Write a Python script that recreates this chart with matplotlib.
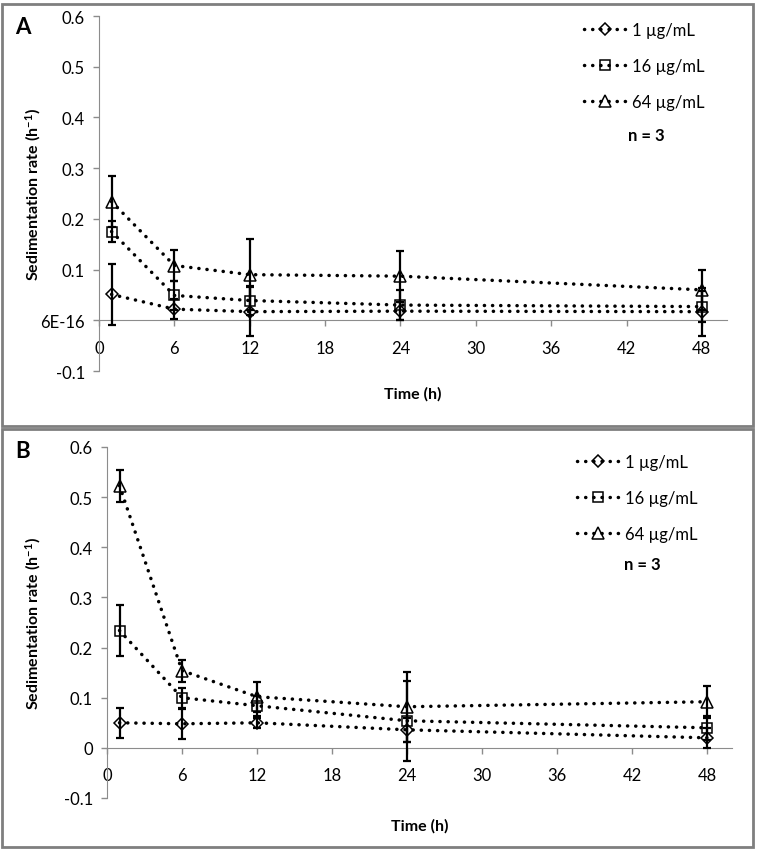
import numpy as np
import matplotlib
matplotlib.use("Agg")
from matplotlib import pyplot as plt

plt.rcParams['font.family'] = ['Lato', 'DejaVu Sans']
plt.rcParams['mathtext.default'] = 'regular'

times = [1, 6, 12, 24, 48]
labels = ['1 µg/mL', '16 µg/mL', '64 µg/mL']
markers = ['D', 's', '^']
msizes = [6, 7.5, 8]

# panel A
a_vals = [[0.051, 0.022, 0.017, 0.018, 0.017],
          [0.175, 0.049, 0.039, 0.030, 0.027],
          [0.234, 0.108, 0.090, 0.087, 0.060]]
a_errs = [[0.060, 0.020, 0.048, 0.018, 0.047],
          [0.020, 0.028, 0.028, 0.030, 0.030],
          [0.051, 0.030, 0.070, 0.050, 0.040]]
a_yticks = [-0.1, 0, 0.1, 0.2, 0.3, 0.4, 0.5, 0.6]
a_yticklabels = ['-0.1', '6E-16', '0.1', '0.2', '0.3', '0.4', '0.5', '0.6']

# panel B
b_vals = [[0.050, 0.048, 0.050, 0.036, 0.020],
          [0.234, 0.100, 0.084, 0.054, 0.040],
          [0.523, 0.154, 0.102, 0.082, 0.092]]
b_errs = [[0.030, 0.030, 0.010, 0.024, 0.020],
          [0.050, 0.020, 0.020, 0.080, 0.024],
          [0.032, 0.022, 0.030, 0.070, 0.032]]
b_yticks = [-0.1, 0, 0.1, 0.2, 0.3, 0.4, 0.5, 0.6]
b_yticklabels = ['-0.1', '0', '0.1', '0.2', '0.3', '0.4', '0.5', '0.6']

xticks = [0, 6, 12, 18, 24, 30, 36, 42, 48]

W, H = 759, 854
fig = plt.figure(figsize=(W / 100, H / 100), dpi=100)

gray = '#8c8c8c'
fs = 12

# panel frames
for (y0, y1) in [(5, 427), (430, 848)]:
    fig.patches.append(plt.Rectangle((2 / W, 1 - y1 / H), 751 / W, (y1 - y0) / H,
                                     transform=fig.transFigure, fill=False,
                                     edgecolor='#7f7f7f', linewidth=2))


def panel(rect, vals, errs, yticks, yticklabels, letter, letter_xy, leg_xy, n_xy, xlab_y):
    l, t, r, b = rect
    ax = fig.add_axes([l / W, 1 - b / H, (r - l) / W, (b - t) / H])
    for i in range(3):
        ax.errorbar(times, vals[i], yerr=errs[i], fmt='none', ecolor='black',
                    elinewidth=1.6, capsize=3, capthick=1.6, zorder=3)
        ax.plot(times, vals[i], linestyle=(0, (0.05, 2.3)), dash_capstyle='round',
                linewidth=2.5, color='black', marker=markers[i], markersize=msizes[i],
                markerfacecolor='none', markeredgecolor='black', markeredgewidth=1.1,
                label=labels[i], zorder=4)
    ax.set_xlim(0, 50)
    ax.set_ylim(-0.1, 0.6)
    ax.set_xticks(xticks)
    ax.set_yticks(yticks)
    ax.set_yticklabels(yticklabels)
    for s in ['top', 'right']:
        ax.spines[s].set_visible(False)
    ax.spines['bottom'].set_position(('data', 0))
    ax.spines['bottom'].set_color(gray)
    ax.spines['left'].set_color(gray)
    ax.tick_params(axis='both', colors=gray, labelcolor='black', labelsize=fs,
                   length=4, width=1)
    ax.tick_params(axis='x', pad=10)
    ax.tick_params(axis='y', pad=6)
    ax.patch.set_alpha(0)
    fig.text(33 / W, 1 - (t + b) / 2 / H, 'Sedimentation rate (h$^{-1}$)', fontsize=11.5,
             fontweight='bold', rotation=90, ha='center', va='center')
    fig.text(letter_xy[0] / W, 1 - letter_xy[1] / H, letter, fontsize=16,
             fontweight='bold', ha='center', va='center')
    fig.text((l + r) / 2 / W, 1 - xlab_y / H, 'Time (h)', fontsize=11.5,
             fontweight='bold', ha='center', va='center')
    ax.legend(loc='upper left', bbox_to_anchor=(leg_xy[0] / W, 1 - leg_xy[1] / H),
              bbox_transform=fig.transFigure, frameon=False, fontsize=fs,
              handlelength=2.5, handletextpad=0.4, labelspacing=1.2,
              borderpad=0, borderaxespad=0)
    fig.text(n_xy[0] / W, 1 - n_xy[1] / H, 'n = 3', fontsize=fs,
             fontweight='bold', ha='center', va='center')
    return ax


panel((99, 17, 727, 372), a_vals, a_errs, a_yticks, a_yticklabels, 'A',
      (23, 27), (584, 23), (646, 136), 394)
panel((107, 448, 732, 799), b_vals, b_errs, b_yticks, b_yticklabels, 'B',
      (23, 452), (577, 455), (642, 565), 826)

fig.savefig('out.png', dpi=100)
